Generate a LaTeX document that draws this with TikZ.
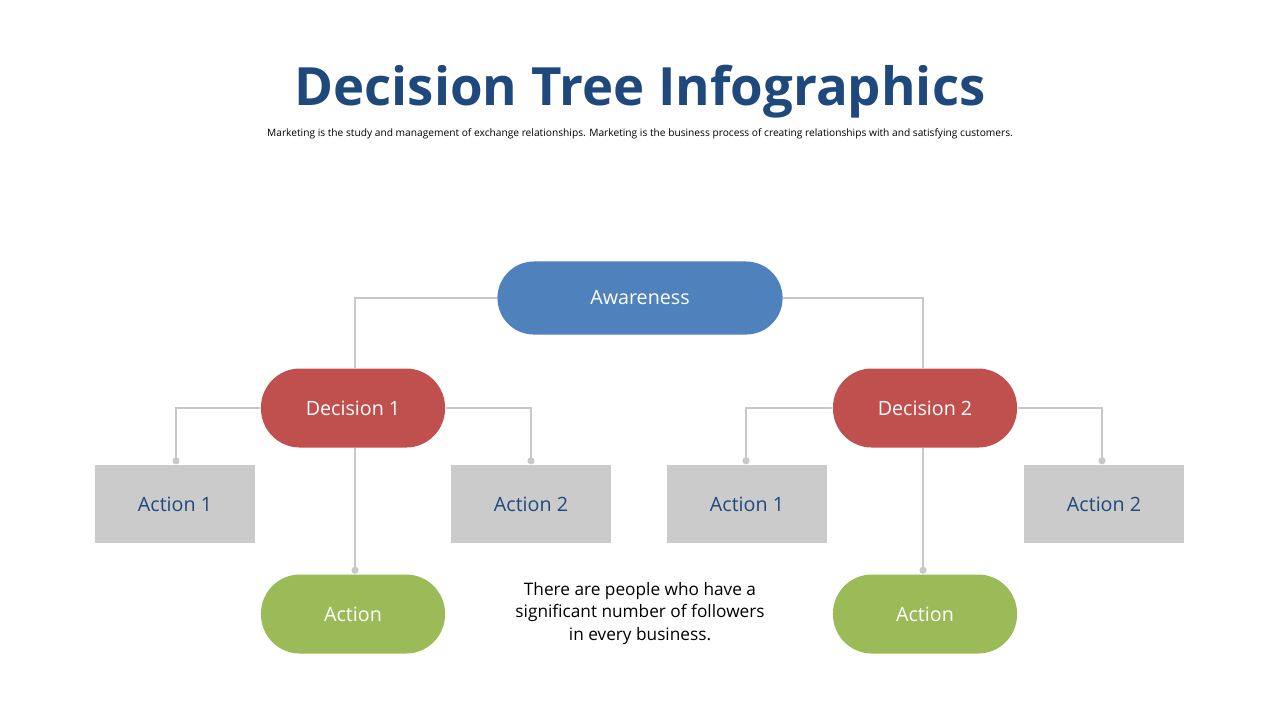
\documentclass[tikz,border=0pt]{standalone}
\usepackage{fontspec}
\setmainfont{Open Sans}
\usetikzlibrary{arrows.meta}
\definecolor{titleblue}{HTML}{1F497D}
\definecolor{awblue}{HTML}{4F81BD}
\definecolor{decred}{HTML}{C0504D}
\definecolor{actgreen}{HTML}{9BBB59}
\definecolor{actgray}{HTML}{CBCBCB}
\definecolor{linegray}{HTML}{C8C8C8}
\begin{document}
\begin{tikzpicture}[x=0.01cm,y=-0.01cm,
    pill/.style={draw=none,text=white,minimum width=1.84cm,minimum height=0.79cm,rounded corners=0.39cm,font=\fontsize{5.6pt}{6pt}\selectfont},
    action/.style={fill=actgray,text=titleblue,minimum width=1.59cm,minimum height=0.78cm,font=\fontsize{5.6pt}{6pt}\selectfont},
    link/.style={draw=linegray,line width=0.5pt},
    dot/.style={link,-{Circle[length=2pt]}}]

    \useasboundingbox (0,0) rectangle (1280,720);

    % titles
    \node[text=titleblue,font=\bfseries\fontsize{15pt}{17pt}\selectfont] (title) at (640,92) {Decision Tree Infographics};
    \node[font=\fontsize{2.9pt}{3.5pt}\selectfont] (sub) at (640,134) {Marketing is the study and management of exchange relationships. Marketing is the business process of creating relationships with and satisfying customers.};

    % nodes
    \node[pill,fill=awblue,minimum width=2.85cm,minimum height=0.73cm,rounded corners=0.365cm] (aw) at (640,298) {Awareness};
    \node[pill,fill=decred] (d1) at (353,408) {Decision 1};
    \node[pill,fill=decred] (d2) at (925,408) {Decision 2};
    \node[action] (a11) at (175,504) {Action 1};
    \node[action] (a12) at (531,504) {Action 2};
    \node[action] (a21) at (747,504) {Action 1};
    \node[action] (a22) at (1104,504) {Action 2};
    \node[pill,fill=actgreen] (g1) at (353,614) {Action};
    \node[pill,fill=actgreen] (g2) at (925,614) {Action};
    \node[align=center,font=\fontsize{4.9pt}{6.4pt}\selectfont] (note) at (640,613) {There are people who have a\\significant number of followers\\in every business.};

    % connectors
    \draw[link] (aw.west) -| (d1.north -| 355,0);
    \draw[link] (aw.east) -| (d2.north -| 923,0);
    \draw[dot] (d1.west) -| (a11.north -| 176,0);
    \draw[dot] (d1.east) -| (a12.north);
    \draw[dot] (d2.west) -| (a21.north -| 746,0);
    \draw[dot] (d2.east) -| (a22.north -| 1102,0);
    \draw[dot] (d1.south -| 355,0) -- (g1.north -| 355,0);
    \draw[dot] (d2.south -| 923,0) -- (g2.north -| 923,0);

\end{tikzpicture}
\end{document}
